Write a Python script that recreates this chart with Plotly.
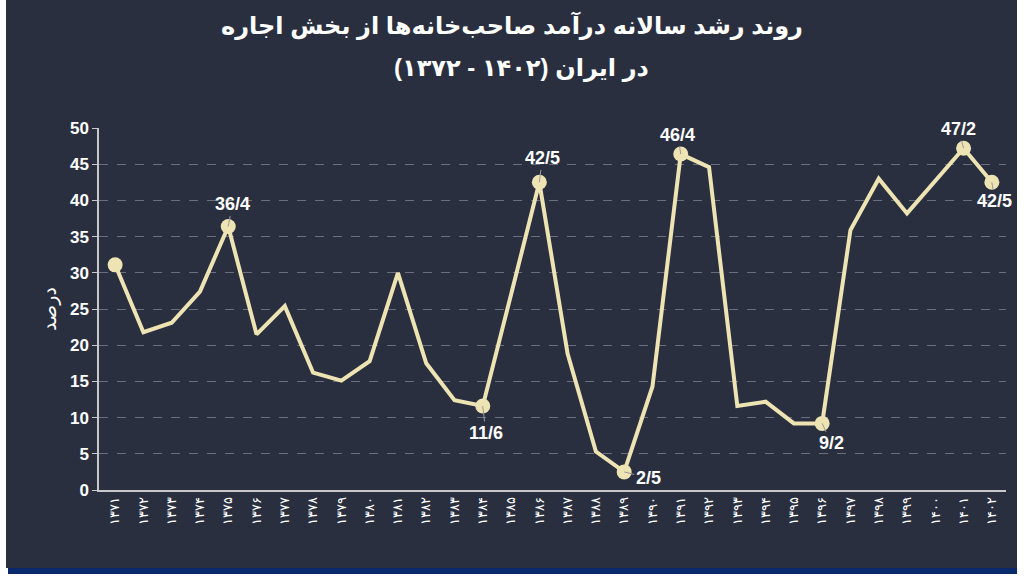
import plotly.graph_objects as go

years = ["۱۳۷۱", "۱۳۷۲", "۱۳۷۳", "۱۳۷۴", "۱۳۷۵", "۱۳۷۶", "۱۳۷۷", "۱۳۷۸",
         "۱۳۷۹", "۱۳۸۰", "۱۳۸۱", "۱۳۸۲", "۱۳۸۳", "۱۳۸۴", "۱۳۸۵", "۱۳۸۶",
         "۱۳۸۷", "۱۳۸۸", "۱۳۸۹", "۱۳۹۰", "۱۳۹۱", "۱۳۹۲", "۱۳۹۳", "۱۳۹۴",
         "۱۳۹۵", "۱۳۹۶", "۱۳۹۷", "۱۳۹۸", "۱۳۹۹", "۱۴۰۰", "۱۴۰۱", "۱۴۰۲"]
growth = [31.1, 21.8, 23.1, 27.4, 36.4, 21.5, 25.4, 16.2,
          15.1, 17.8, 30.0, 17.5, 12.4, 11.6, 27.0, 42.5,
          18.8, 5.3, 2.5, 14.3, 46.4, 44.6, 11.6, 12.2,
          9.2, 9.2, 35.9, 43.0, 38.2, 42.7, 47.2, 42.5]
marked_idx = [0, 4, 13, 15, 18, 20, 25, 30, 31]
label_idx = [4, 13, 15, 18, 20, 25, 30, 31]
label_text = ["36/4", "11/6", "42/5", "2/5", "46/4", "9/2", "47/2", "42/5"]
y_ticks = [0, 5, 10, 15, 20, 25, 30, 35, 40, 45, 50]

title_line1 = "روند رشد سالانه درآمد صاحب‌خانه‌ها از بخش اجاره"
title_line2 = "در ایران (۱۴۰۲ - ۱۳۷۲)"
y_title = "درصد"

label_offsets = [(4, -22), (3, 27), (3, -24), (24, 6), (-3, -19), (9, 20), (-5, -19), (3, 19)]

LINE = "#ede3b3"
BG = "#2a2f3f"
FONT = "Liberation Sans, Arial, DejaVu Sans, sans-serif"

x = list(range(len(years)))


def px(v):
    return (v - 99) / 907


def py(v):
    return (490 - v) / 362


fig = go.Figure()
fig.add_trace(go.Scatter(x=x, y=growth, mode="lines",
                         line=dict(color=LINE, width=4), hoverinfo="skip"))
fig.add_trace(go.Scatter(x=[x[i] for i in marked_idx], y=[growth[i] for i in marked_idx],
                         mode="markers", marker=dict(color=LINE, size=15), hoverinfo="skip"))

ann = []
for i, t, (ax, ay) in zip(label_idx, label_text, label_offsets):
    ann.append(dict(x=x[i], y=growth[i], xref="x", yref="y", text=t,
                    showarrow=True, arrowhead=0, arrowwidth=1, arrowcolor="#9a9a9a",
                    ax=ax, ay=ay, standoff=0, startstandoff=0,
                    font=dict(family=FONT, size=18, color="white", weight="bold")))

# two-line title
ann.append(dict(x=px(512), y=py(26), xref="paper", yref="paper", text=title_line1,
                showarrow=False, xanchor="center", yanchor="middle",
                font=dict(family=FONT, size=24, color="white", weight="bold")))
ann.append(dict(x=px(521), y=py(68), xref="paper", yref="paper", text=title_line2,
                showarrow=False, xanchor="center", yanchor="middle",
                font=dict(family=FONT, size=24, color="white", weight="bold")))

shapes = [
    dict(type="rect", xref="paper", yref="paper", x0=px(6), x1=px(1017), y0=py(568), y1=py(0),
         fillcolor=BG, line=dict(width=0), layer="below"),
    dict(type="rect", xref="paper", yref="paper", x0=px(8), x1=px(1017), y0=py(574), y1=py(568),
         fillcolor="#0b2a6e", line=dict(width=0), layer="below"),
]

fig.update_layout(
    width=1024, height=580,
    margin=dict(l=99, r=18, t=128, b=90),
    paper_bgcolor="white", plot_bgcolor="rgba(0,0,0,0)",
    showlegend=False,
    annotations=ann, shapes=shapes,
    xaxis=dict(range=[-0.57, 31.5], tickmode="array", tickvals=x, ticktext=years,
               tickangle=-90, tickfont=dict(family=FONT, size=13, color="white"),
               showgrid=False, zeroline=False, showline=True, linecolor="#c8c8c8",
               linewidth=1.5, ticks="", fixedrange=True),
    yaxis=dict(range=[0, 50], tickmode="array", tickvals=y_ticks,
               tickfont=dict(family=FONT, size=17, color="white", weight="bold"),
               showgrid=True, gridcolor="#6b6f7c", griddash="dash", gridwidth=1,
               zeroline=False, showline=True, linecolor="#c8c8c8", linewidth=1.5,
               ticks="outside", ticklen=5, tickcolor="#c8c8c8",
               title=dict(text=y_title, font=dict(family=FONT, size=19, color="white"), standoff=8)),
)

fig.write_html("out.html")
